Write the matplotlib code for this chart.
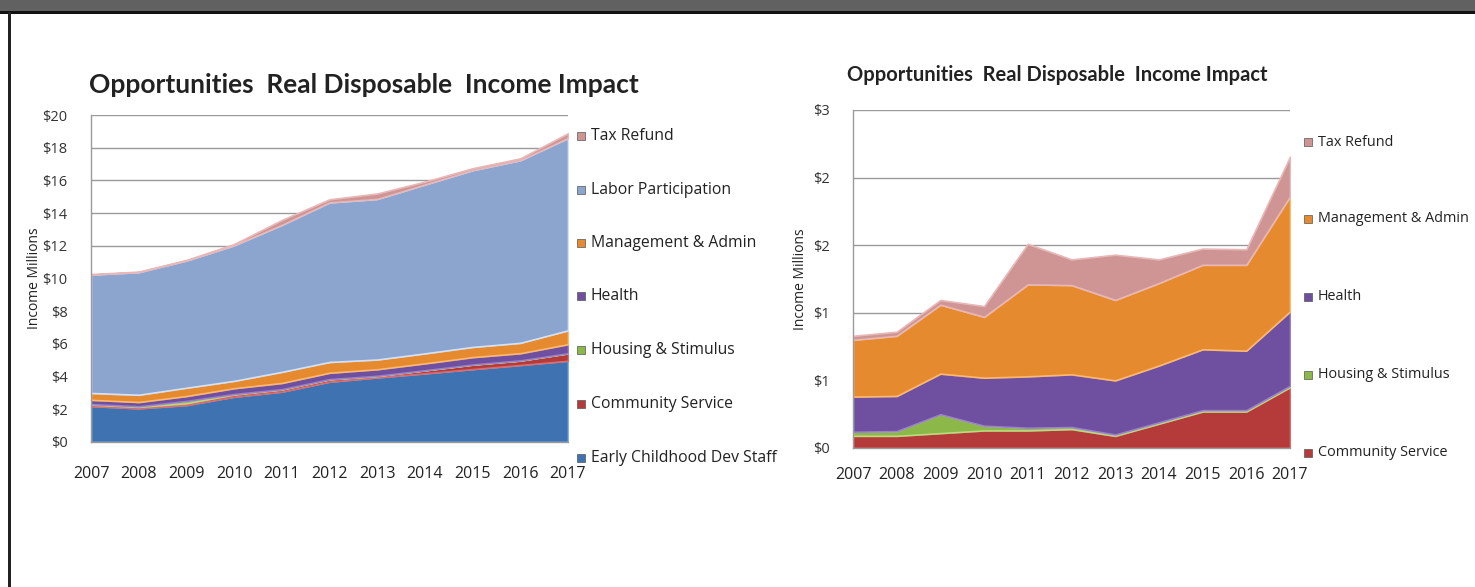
import matplotlib
matplotlib.use("Agg")
import matplotlib.pyplot as plt
from matplotlib.patches import Rectangle
import numpy as np

plt.rcParams['font.family'] = ['Lato', 'DejaVu Sans']

years = [2007, 2008, 2009, 2010, 2011, 2012, 2013, 2014, 2015, 2016, 2017]

early_childhood = [2.20, 2.06, 2.26, 2.77, 3.08, 3.69, 3.95, 4.20, 4.46, 4.71, 4.97]
community_service = [0.09, 0.09, 0.11, 0.13, 0.13, 0.14, 0.09, 0.18, 0.27, 0.27, 0.45]
housing_stimulus = [0.03, 0.035, 0.14, 0.035, 0.02, 0.015, 0.01, 0.01, 0.01, 0.01, 0.01]
health = [0.26, 0.26, 0.30, 0.355, 0.38, 0.39, 0.40, 0.42, 0.45, 0.44, 0.55]
management_admin = [0.42, 0.445, 0.51, 0.45, 0.68, 0.66, 0.595, 0.61, 0.625, 0.635, 0.85]
labor_participation = [7.24, 7.50, 7.78, 8.29, 8.99, 9.76, 9.82, 10.33, 10.81, 11.17, 11.76]
tax_refund = [0.03, 0.03, 0.035, 0.08, 0.30, 0.19, 0.335, 0.175, 0.12, 0.115, 0.295]

title = "Opportunities  Real Disposable  Income Impact"
ylabel = "Income Millions"

left_names = ["Early Childhood Dev Staff", "Community Service", "Housing & Stimulus",
              "Health", "Management & Admin", "Labor Participation", "Tax Refund"]
right_names = ["Community Service", "Housing & Stimulus", "Health",
               "Management & Admin", "Tax Refund"]

colors = {
    "Early Childhood Dev Staff": "#3f72b0",
    "Community Service": "#b53a3a",
    "Housing & Stimulus": "#8cb84a",
    "Health": "#6f50a0",
    "Management & Admin": "#e68a30",
    "Labor Participation": "#8ba5cf",
    "Tax Refund": "#cf9494",
}
edges = {
    "Early Childhood Dev Staff": "#7fb2ee",
    "Community Service": "#e06a6a",
    "Housing & Stimulus": "#b6dc7c",
    "Health": "#9c80cc",
    "Management & Admin": "#ffb968",
    "Labor Participation": "#cfe2ff",
    "Tax Refund": "#e8b8b8",
}
series = {
    "Early Childhood Dev Staff": early_childhood,
    "Community Service": community_service,
    "Housing & Stimulus": housing_stimulus,
    "Health": health,
    "Management & Admin": management_admin,
    "Labor Participation": labor_participation,
    "Tax Refund": tax_refund,
}

W, H = 1475, 587
fig = plt.figure(figsize=(W / 100, H / 100), dpi=100)
fig.patch.set_facecolor("white")

TXT = ['Open Sans', 'DejaVu Sans']


def fx(px):
    return px / W


def fy(py):
    return 1 - py / H


# header band and border
fig.patches.append(Rectangle((0, fy(12)), 1, 12 / H, transform=fig.transFigure,
                             facecolor="#616161", edgecolor="none", zorder=0))
fig.patches.append(Rectangle((0, fy(13.5)), 1, 2 / H, transform=fig.transFigure,
                             facecolor="#111111", edgecolor="none", zorder=0))
fig.patches.append(Rectangle((fx(8), 0), 2.5 / W, fy(12), transform=fig.transFigure,
                             facecolor="#222222", edgecolor="none", zorder=0))


def style_axes(ax, ymax, ystep, labels, xpad):
    ax.set_xlim(years[0], years[-1])
    ax.set_ylim(0, ymax)
    ticks = np.arange(0, ymax + 1e-9, ystep)
    ax.set_yticks(ticks)
    ax.set_yticklabels(labels, fontsize=10.5, color="#333333", family=TXT)
    ax.set_xticks(years)
    ax.set_xticklabels([str(y) for y in years], fontsize=11.5, color="#222222",
                       family=TXT)
    ax.tick_params(axis="y", length=0, pad=17)
    ax.tick_params(axis="x", length=0, pad=xpad)
    ax.grid(axis="y", color="#9a9a9a", linewidth=1.0, zorder=0)
    ax.set_axisbelow(True)
    for s in ["top", "right"]:
        ax.spines[s].set_visible(False)
    for s in ["left", "bottom"]:
        ax.spines[s].set_color("#9a9a9a")
        ax.spines[s].set_linewidth(1.0)


def draw_stack(ax, names):
    base = np.zeros(len(years))
    for n in names:
        v = np.array(series[n], dtype=float)
        ax.fill_between(years, base, base + v, facecolor=colors[n],
                        edgecolor=edges[n], linewidth=1.2, zorder=2)
        base = base + v


# Left chart
axL = fig.add_axes([fx(91), fy(442), fx(568) - fx(91), fy(115) - fy(442)])
draw_stack(axL, left_names)
style_axes(axL, 20, 2, ["$" + str(v) for v in range(0, 21, 2)], 17)
axL.set_ylabel(ylabel, fontsize=10, color="#222222", labelpad=0.5, family=TXT)
fig.text(fx(364), fy(85), title, ha="center", va="center", fontsize=19,
         fontweight="bold", color="#222222")

# Right chart
axR = fig.add_axes([fx(853), fy(448), fx(1290) - fx(853), fy(110) - fy(448)])
draw_stack(axR, right_names)
style_axes(axR, 2.5, 0.5, ["$0", "$1", "$1", "$2", "$2", "$3"], 14)
axR.set_ylabel(ylabel, fontsize=10, color="#222222", labelpad=3.5, family=TXT)
fig.text(fx(1057), fy(75), title, ha="center", va="center", fontsize=14.5,
         fontweight="bold", color="#222222")


def legend(names, x_box, ys, fs):
    for n, y in zip(names, ys):
        fig.patches.append(Rectangle((fx(x_box), fy(y + 4)), 8 / W, 8 / H,
                                     transform=fig.transFigure,
                                     facecolor=colors[n], edgecolor="#555555",
                                     linewidth=0.5))
        fig.text(fx(x_box + 14), fy(y), n, ha="left", va="center", fontsize=fs,
                 color="#222222", family=TXT)


legend(list(reversed(left_names)), 577, [136, 190, 243, 296, 350, 404, 458], 11.3)
legend(list(reversed(right_names)), 1304, [142, 219, 297, 375, 453], 10.4)

fig.savefig("out.png", dpi=100)
